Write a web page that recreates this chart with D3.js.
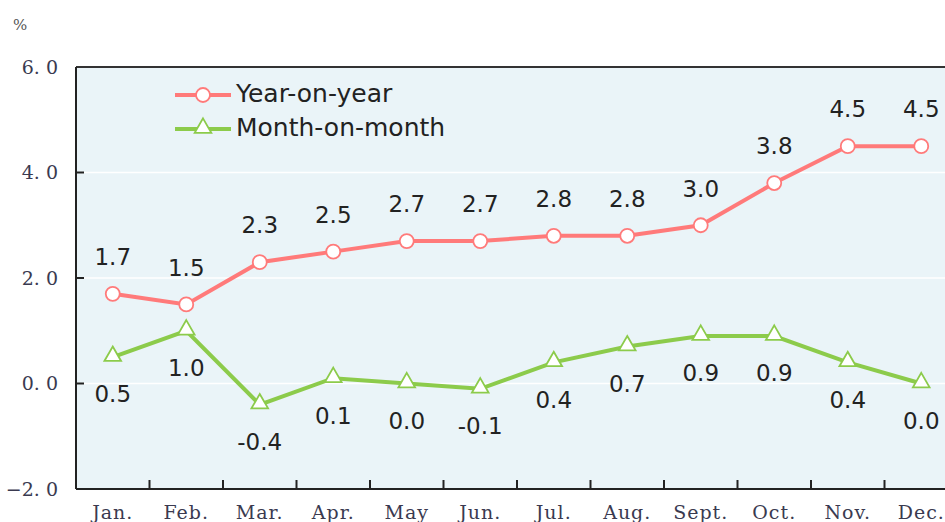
<!DOCTYPE html>
<html><head><meta charset="utf-8">
<script src="https://cdn.jsdelivr.net/npm/d3@7"></script>
<style>
body{margin:0;background:#fff;}
svg{display:block;}
</style></head>
<body>
<svg id="chart" width="945" height="522"></svg>
<script>
const categories = ["Jan.","Feb.","Mar.","Apr.","May","Jun.","Jul.","Aug.","Sept.","Oct.","Nov.","Dec."];
const yoy = [1.7,1.5,2.3,2.5,2.7,2.7,2.8,2.8,3.0,3.8,4.5,4.5];
const mom = [0.5,1.0,-0.4,0.1,0.0,-0.1,0.4,0.7,0.9,0.9,0.4,0.0];
const yTicks = [6.0,4.0,2.0,0.0,-2.0];
const seriesNames = ["Year-on-year","Month-on-month"];

(function(){
const svg = d3.select("#chart");
const pLeft = 76, pTop = 67, pBottom = 489, bandW = 73.5;
const x = d3.scaleBand().domain(categories).range([pLeft, pLeft + bandW*categories.length]).padding(0);
const y = d3.scaleLinear().domain([-2, 6]).range([pBottom, pTop]);
const red = "#FF7A7A", green = "#8CCB4B";
const serif = "'DejaVu Serif','Liberation Serif',serif";
const sans = "'DejaVu Sans',Verdana,sans-serif";

svg.append("rect").attr("x", pLeft).attr("y", pTop).attr("width", 945-pLeft).attr("height", pBottom-pTop).attr("fill", "#EAF4F8");
svg.append("g").selectAll("line").data(yTicks.filter(d => d > -2 && d < 6)).join("line")
  .attr("x1", pLeft).attr("x2", 945).attr("y1", d => y(d)).attr("y2", d => y(d))
  .attr("stroke", "#ffffff").attr("stroke-width", 1.5);
svg.append("line").attr("x1", pLeft).attr("x2", 945).attr("y1", pTop).attr("y2", pTop).attr("stroke", "#333").attr("stroke-width", 2);
svg.append("line").attr("x1", pLeft).attr("x2", pLeft).attr("y1", pTop).attr("y2", pBottom).attr("stroke", "#222").attr("stroke-width", 2);
svg.append("line").attr("x1", pLeft).attr("x2", 945).attr("y1", pBottom).attr("y2", pBottom).attr("stroke", "#222").attr("stroke-width", 2);

const fmtY = d => d.toFixed(1).replace("-", "\u2212").replace(".", ". ");
svg.append("g").selectAll("line").data(yTicks.filter(d => d > -2 && d < 6)).join("line")
  .attr("x1", pLeft).attr("x2", pLeft + 8).attr("y1", d => y(d)).attr("y2", d => y(d)).attr("stroke", "#222").attr("stroke-width", 2);
svg.append("g").selectAll("text").data(yTicks).join("text")
  .attr("x", 58).attr("y", d => y(d)).attr("dy", "0.36em").attr("text-anchor", "end")
  .attr("font-family", serif).attr("font-size", 19).attr("fill", "#3a3a50")
  .text(fmtY);
svg.append("text").attr("x", 13).attr("y", 30).attr("font-family", serif).attr("font-size", 15).attr("fill", "#555").text("%");

svg.append("g").selectAll("line").data(categories.slice(1)).join("line")
  .attr("x1", d => x(d)).attr("x2", d => x(d)).attr("y1", pBottom).attr("y2", pBottom - 9).attr("stroke", "#222").attr("stroke-width", 2);
svg.append("g").selectAll("text").data(categories).join("text")
  .attr("x", d => x(d) + x.bandwidth()/2).attr("y", 519).attr("text-anchor", "middle")
  .attr("font-family", serif).attr("font-size", 19).attr("letter-spacing", 1).attr("fill", "#3a3a50")
  .text(d => d);

const cx = (d, i) => x(categories[i]) + x.bandwidth()/2;
const line = d3.line().x((d, i) => cx(d, i)).y(d => y(d));

const g = svg.append("g");
g.append("path").datum(yoy).attr("d", line).attr("fill", "none").attr("stroke", red).attr("stroke-width", 4);
g.append("path").datum(mom).attr("d", line).attr("fill", "none").attr("stroke", green).attr("stroke-width", 4);

g.selectAll("circle.yoy").data(yoy).join("circle").attr("class", "yoy")
  .attr("cx", cx).attr("cy", d => y(d)).attr("r", 7).attr("fill", "#fff").attr("stroke", red).attr("stroke-width", 1.8);
const tri = d3.symbol().type(d3.symbolTriangle).size(120);
g.selectAll("path.mom").data(mom).join("path").attr("class", "mom")
  .attr("transform", (d, i) => `translate(${cx(d, i)},${y(d) - 1})`).attr("d", tri)
  .attr("fill", "#fff").attr("stroke", green).attr("stroke-width", 1.8);

g.selectAll("text.yoy").data(yoy).join("text").attr("class", "yoy")
  .attr("x", cx).attr("y", d => y(d) - 37).attr("dy", "0.36em").attr("text-anchor", "middle")
  .attr("font-family", sans).attr("font-size", 23).attr("fill", "#222").text(d => d.toFixed(1));
g.selectAll("text.mom").data(mom).join("text").attr("class", "mom")
  .attr("x", cx).attr("y", d => y(d) + 37).attr("dy", "0.36em").attr("text-anchor", "middle")
  .attr("font-family", sans).attr("font-size", 23).attr("fill", "#222").text(d => d.toFixed(1));

const legend = svg.append("g");
[red, green].forEach((c, i) => {
  const ly = 95 + i * 34;
  legend.append("line").attr("x1", 175).attr("x2", 231).attr("y1", ly).attr("y2", ly).attr("stroke", c).attr("stroke-width", 4);
  if (i === 0) legend.append("circle").attr("cx", 203).attr("cy", ly).attr("r", 7).attr("fill", "#fff").attr("stroke", c).attr("stroke-width", 1.8);
  else legend.append("path").attr("transform", `translate(203,${ly - 1})`).attr("d", tri).attr("fill", "#fff").attr("stroke", c).attr("stroke-width", 1.8);
  legend.append("text").attr("x", 236).attr("y", ly + 7)
    .attr("font-family", sans).attr("font-size", 25).attr("fill", "#222").text(seriesNames[i]);
});
})();
</script>
</body></html>
